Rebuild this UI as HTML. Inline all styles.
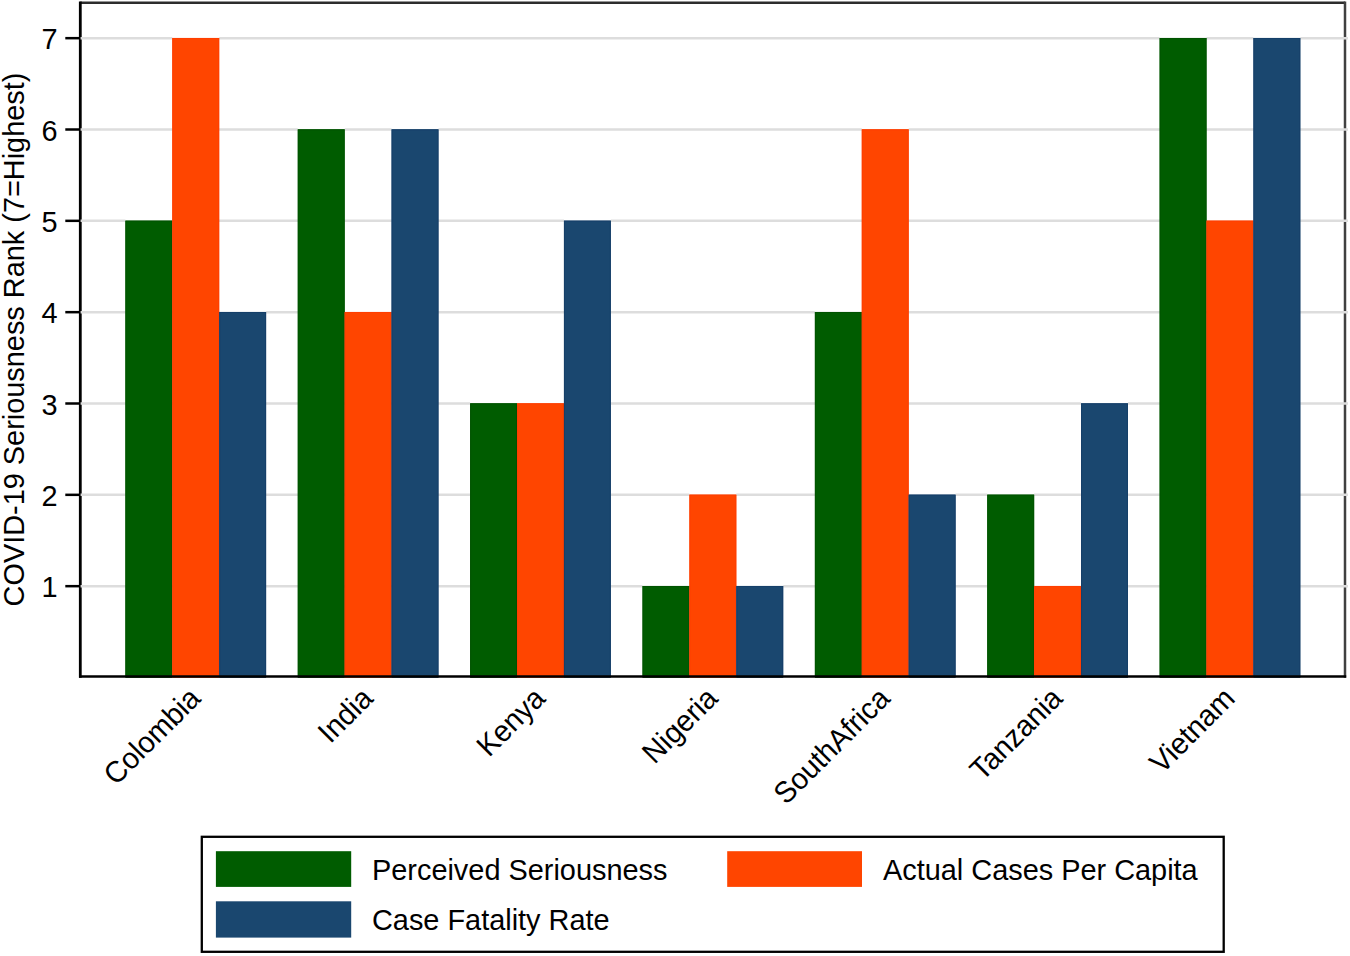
<!DOCTYPE html>
<html><head><meta charset="utf-8"><style>
html,body{margin:0;padding:0;background:#fff;}
svg{display:block;}
text{font-family:"Liberation Sans",sans-serif;font-size:28.9px;fill:#000;}
</style></head><body>
<svg width="1350" height="956" viewBox="0 0 1350 956">
<rect width="1350" height="956" fill="#fff"/>
<path d="M80.3 2.8 H1345" fill="none" stroke="#2c2c2c" stroke-width="2.4"/>
<path d="M1345 1.6 V677.8" fill="none" stroke="#404040" stroke-width="2.5"/>
<path d="M80.3 1.6 V677.8" fill="none" stroke="#000" stroke-width="2.8"/>
<line x1="80.6" y1="586.17" x2="1348" y2="586.17" stroke="#dddddd" stroke-width="2.5"/>
<line x1="80.6" y1="494.83" x2="1348" y2="494.83" stroke="#dddddd" stroke-width="2.5"/>
<line x1="80.6" y1="403.50" x2="1348" y2="403.50" stroke="#dddddd" stroke-width="2.5"/>
<line x1="80.6" y1="312.17" x2="1348" y2="312.17" stroke="#dddddd" stroke-width="2.5"/>
<line x1="80.6" y1="220.83" x2="1348" y2="220.83" stroke="#dddddd" stroke-width="2.5"/>
<line x1="80.6" y1="129.50" x2="1348" y2="129.50" stroke="#dddddd" stroke-width="2.5"/>
<line x1="80.6" y1="38.17" x2="1348" y2="38.17" stroke="#dddddd" stroke-width="2.5"/>
<rect x="125.40" y="218.44" width="46.90" height="2.2" fill="#fff"/>
<rect x="172.30" y="35.77" width="46.90" height="2.2" fill="#fff"/>
<rect x="219.20" y="309.77" width="46.90" height="2.2" fill="#fff"/>
<rect x="297.77" y="127.10" width="46.90" height="2.2" fill="#fff"/>
<rect x="344.67" y="309.77" width="46.90" height="2.2" fill="#fff"/>
<rect x="391.57" y="127.10" width="46.90" height="2.2" fill="#fff"/>
<rect x="470.14" y="401.10" width="46.90" height="2.2" fill="#fff"/>
<rect x="517.04" y="401.10" width="46.90" height="2.2" fill="#fff"/>
<rect x="563.94" y="218.44" width="46.90" height="2.2" fill="#fff"/>
<rect x="642.51" y="583.77" width="46.90" height="2.2" fill="#fff"/>
<rect x="689.41" y="492.43" width="46.90" height="2.2" fill="#fff"/>
<rect x="736.31" y="583.77" width="46.90" height="2.2" fill="#fff"/>
<rect x="814.88" y="309.77" width="46.90" height="2.2" fill="#fff"/>
<rect x="861.78" y="127.10" width="46.90" height="2.2" fill="#fff"/>
<rect x="908.68" y="492.43" width="46.90" height="2.2" fill="#fff"/>
<rect x="987.25" y="492.43" width="46.90" height="2.2" fill="#fff"/>
<rect x="1034.15" y="583.77" width="46.90" height="2.2" fill="#fff"/>
<rect x="1081.05" y="401.10" width="46.90" height="2.2" fill="#fff"/>
<rect x="1159.62" y="35.77" width="46.90" height="2.2" fill="#fff"/>
<rect x="1206.52" y="218.44" width="46.90" height="2.2" fill="#fff"/>
<rect x="1253.42" y="35.77" width="46.90" height="2.2" fill="#fff"/>
<rect x="125.40" y="220.63" width="46.90" height="456.66" fill="#005c00"/>
<rect x="125.90" y="221.13" width="45.90" height="456.16" fill="none" stroke="#005300" stroke-width="1"/>
<rect x="172.30" y="37.97" width="46.90" height="639.33" fill="#ff4500"/>
<rect x="172.80" y="38.47" width="45.90" height="638.83" fill="none" stroke="#ff3e00" stroke-width="1"/>
<rect x="219.20" y="311.97" width="46.90" height="365.33" fill="#1a476f"/>
<rect x="219.70" y="312.47" width="45.90" height="364.83" fill="none" stroke="#163f69" stroke-width="1"/>
<rect x="297.77" y="129.30" width="46.90" height="548.00" fill="#005c00"/>
<rect x="298.27" y="129.80" width="45.90" height="547.50" fill="none" stroke="#005300" stroke-width="1"/>
<rect x="344.67" y="311.97" width="46.90" height="365.33" fill="#ff4500"/>
<rect x="345.17" y="312.47" width="45.90" height="364.83" fill="none" stroke="#ff3e00" stroke-width="1"/>
<rect x="391.57" y="129.30" width="46.90" height="548.00" fill="#1a476f"/>
<rect x="392.07" y="129.80" width="45.90" height="547.50" fill="none" stroke="#163f69" stroke-width="1"/>
<rect x="470.14" y="403.30" width="46.90" height="274.00" fill="#005c00"/>
<rect x="470.64" y="403.80" width="45.90" height="273.50" fill="none" stroke="#005300" stroke-width="1"/>
<rect x="517.04" y="403.30" width="46.90" height="274.00" fill="#ff4500"/>
<rect x="517.54" y="403.80" width="45.90" height="273.50" fill="none" stroke="#ff3e00" stroke-width="1"/>
<rect x="563.94" y="220.63" width="46.90" height="456.66" fill="#1a476f"/>
<rect x="564.44" y="221.13" width="45.90" height="456.16" fill="none" stroke="#163f69" stroke-width="1"/>
<rect x="642.51" y="585.97" width="46.90" height="91.33" fill="#005c00"/>
<rect x="643.01" y="586.47" width="45.90" height="90.83" fill="none" stroke="#005300" stroke-width="1"/>
<rect x="689.41" y="494.63" width="46.90" height="182.67" fill="#ff4500"/>
<rect x="689.91" y="495.13" width="45.90" height="182.17" fill="none" stroke="#ff3e00" stroke-width="1"/>
<rect x="736.31" y="585.97" width="46.90" height="91.33" fill="#1a476f"/>
<rect x="736.81" y="586.47" width="45.90" height="90.83" fill="none" stroke="#163f69" stroke-width="1"/>
<rect x="814.88" y="311.97" width="46.90" height="365.33" fill="#005c00"/>
<rect x="815.38" y="312.47" width="45.90" height="364.83" fill="none" stroke="#005300" stroke-width="1"/>
<rect x="861.78" y="129.30" width="46.90" height="548.00" fill="#ff4500"/>
<rect x="862.28" y="129.80" width="45.90" height="547.50" fill="none" stroke="#ff3e00" stroke-width="1"/>
<rect x="908.68" y="494.63" width="46.90" height="182.67" fill="#1a476f"/>
<rect x="909.18" y="495.13" width="45.90" height="182.17" fill="none" stroke="#163f69" stroke-width="1"/>
<rect x="987.25" y="494.63" width="46.90" height="182.67" fill="#005c00"/>
<rect x="987.75" y="495.13" width="45.90" height="182.17" fill="none" stroke="#005300" stroke-width="1"/>
<rect x="1034.15" y="585.97" width="46.90" height="91.33" fill="#ff4500"/>
<rect x="1034.65" y="586.47" width="45.90" height="90.83" fill="none" stroke="#ff3e00" stroke-width="1"/>
<rect x="1081.05" y="403.30" width="46.90" height="274.00" fill="#1a476f"/>
<rect x="1081.55" y="403.80" width="45.90" height="273.50" fill="none" stroke="#163f69" stroke-width="1"/>
<rect x="1159.62" y="37.97" width="46.90" height="639.33" fill="#005c00"/>
<rect x="1160.12" y="38.47" width="45.90" height="638.83" fill="none" stroke="#005300" stroke-width="1"/>
<rect x="1206.52" y="220.63" width="46.90" height="456.66" fill="#ff4500"/>
<rect x="1207.02" y="221.13" width="45.90" height="456.16" fill="none" stroke="#ff3e00" stroke-width="1"/>
<rect x="1253.42" y="37.97" width="46.90" height="639.33" fill="#1a476f"/>
<rect x="1253.92" y="38.47" width="45.90" height="638.83" fill="none" stroke="#163f69" stroke-width="1"/>
<path d="M79 676.6 H1346.2" fill="none" stroke="#000" stroke-width="2.5"/>
<line x1="65.3" y1="586.17" x2="80" y2="586.17" stroke="#000" stroke-width="2.5"/>
<text transform="translate(57.5,597.17) scale(1,1.04)" text-anchor="end">1</text>
<line x1="65.3" y1="494.83" x2="80" y2="494.83" stroke="#000" stroke-width="2.5"/>
<text transform="translate(57.5,505.83) scale(1,1.04)" text-anchor="end">2</text>
<line x1="65.3" y1="403.50" x2="80" y2="403.50" stroke="#000" stroke-width="2.5"/>
<text transform="translate(57.5,414.50) scale(1,1.04)" text-anchor="end">3</text>
<line x1="65.3" y1="312.17" x2="80" y2="312.17" stroke="#000" stroke-width="2.5"/>
<text transform="translate(57.5,323.17) scale(1,1.04)" text-anchor="end">4</text>
<line x1="65.3" y1="220.83" x2="80" y2="220.83" stroke="#000" stroke-width="2.5"/>
<text transform="translate(57.5,231.83) scale(1,1.04)" text-anchor="end">5</text>
<line x1="65.3" y1="129.50" x2="80" y2="129.50" stroke="#000" stroke-width="2.5"/>
<text transform="translate(57.5,140.50) scale(1,1.04)" text-anchor="end">6</text>
<line x1="65.3" y1="38.17" x2="80" y2="38.17" stroke="#000" stroke-width="2.5"/>
<text transform="translate(57.5,49.17) scale(1,1.04)" text-anchor="end">7</text>
<text transform="translate(24.3,339.5) rotate(-90) scale(1,1.04)" text-anchor="middle">COVID-19 Seriousness Rank (7=Highest)</text>
<text transform="translate(194.65,692.6) rotate(-45) scale(1,1.04)" text-anchor="end" dominant-baseline="central">Colombia</text>
<text transform="translate(367.02,692.6) rotate(-45) scale(1,1.04)" text-anchor="end" dominant-baseline="central">India</text>
<text transform="translate(539.39,692.6) rotate(-45) scale(1,1.04)" text-anchor="end" dominant-baseline="central">Kenya</text>
<text transform="translate(711.76,692.6) rotate(-45) scale(1,1.04)" text-anchor="end" dominant-baseline="central">Nigeria</text>
<text transform="translate(884.13,692.6) rotate(-45) scale(1,1.04)" text-anchor="end" dominant-baseline="central">SouthAfrica</text>
<text transform="translate(1056.50,692.6) rotate(-45) scale(1,1.04)" text-anchor="end" dominant-baseline="central">Tanzania</text>
<text transform="translate(1228.87,692.6) rotate(-45) scale(1,1.04)" text-anchor="end" dominant-baseline="central">Vietnam</text>
<rect x="201.8" y="836.8" width="1021.9" height="115" fill="none" stroke="#000" stroke-width="2.3"/>
<rect x="215.9" y="851.2" width="135.3" height="35.7" fill="#005c00"/>
<rect x="215.9" y="901.3" width="135.3" height="36.3" fill="#1a476f"/>
<rect x="727.2" y="851.2" width="134.8" height="35.7" fill="#ff4500"/>
<text transform="translate(372,879.7) scale(1,1.04)">Perceived Seriousness</text>
<text transform="translate(372,929.9) scale(1,1.04)">Case Fatality Rate</text>
<text transform="translate(883,879.7) scale(1,1.04)">Actual Cases Per Capita</text>
</svg>
</body></html>
